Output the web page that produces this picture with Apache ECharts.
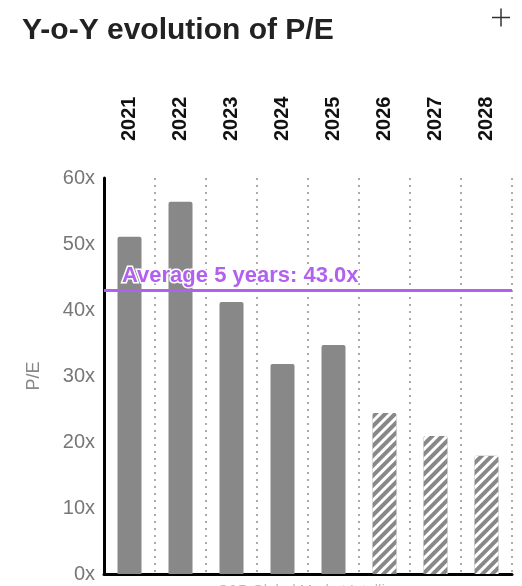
<!DOCTYPE html>
<html>
<head>
<meta charset="utf-8">
<style>
  html, body { margin: 0; padding: 0; background: #fff; }
  #chart { width: 522px; height: 586px; }
</style>
<script src="https://cdn.jsdelivr.net/npm/echarts@6/dist/echarts.min.js"></script>
</head>
<body>
<div id="chart"></div>
<script>
var years = ['2021', '2022', '2023', '2024', '2025', '2026', '2027', '2028'];
var peValues = [51.1, 56.4, 41.2, 31.8, 34.7, 24.4, 20.9, 17.9];
var isForecast = [false, false, false, false, false, true, true, true];
var averagePE = 43.0;
var yTicks = [0, 60, 10]; // min, max, interval

var purple = '#b160f0';
var barGrey = '#888888';
var font = 'Liberation Sans, Arial, sans-serif';

var chart = echarts.init(document.getElementById('chart'), null, { renderer: 'canvas' });

// forecast years get the striped fill
var barData = peValues.map(function (v, i) {
  var item = { value: v };
  if (isForecast[i]) {
    item.itemStyle = {
      color: barGrey,
      decal: {
        symbol: 'rect',
        color: '#ffffff',
        dashArrayX: [1, 0],
        dashArrayY: [3, 4],
        rotation: -Math.PI / 4
      }
    };
  }
  return item;
});

chart.setOption({
  animation: false,
  title: {
    text: 'Y-o-Y evolution of P/E',
    left: 17,
    top: 11,
    textStyle: { fontFamily: font, fontSize: 30, fontWeight: 'bold', color: '#222' }
  },
  graphic: [
    { type: 'line', shape: { x1: 492, y1: 17.5, x2: 510, y2: 17.5 }, style: { stroke: '#333', lineWidth: 1.5 } },
    { type: 'line', shape: { x1: 501, y1: 8.5, x2: 501, y2: 26.5 }, style: { stroke: '#333', lineWidth: 1.5 } },
    { type: 'text', left: 218, top: 583, style: { text: 'S&P Global Market Intelligence', fontSize: 15, fontFamily: font, fill: '#bbb' } }
  ],
  grid: { left: 104, right: 10, top: 178, bottom: 12 },
  xAxis: [
    {
      type: 'category',
      data: years,
      position: 'top',
      axisLine: { show: false },
      axisTick: { show: false },
      axisLabel: {
        rotate: 90,
        margin: 37,
        color: '#111',
        fontSize: 20,
        fontWeight: 'bold',
        fontFamily: font
      },
      splitLine: { show: true, lineStyle: { color: '#aaa', width: 2, type: [2, 5] } }
    },
    {
      type: 'category',
      data: years,
      position: 'bottom',
      axisLine: { show: true, lineStyle: { color: '#000', width: 3 } },
      axisTick: { show: false },
      axisLabel: { show: false }
    }
  ],
  yAxis: {
    type: 'value',
    min: yTicks[0],
    max: yTicks[1],
    interval: yTicks[2],
    name: 'P/E',
    nameLocation: 'middle',
    nameGap: 61,
    nameTextStyle: { color: '#888', fontSize: 18, fontFamily: font },
    axisLine: { show: true, lineStyle: { color: '#000', width: 3 } },
    axisTick: { show: false },
    axisLabel: {
      formatter: '{value}x',
      color: '#777',
      fontSize: 20,
      margin: 9,
      fontFamily: font
    },
    splitLine: { show: false }
  },
  series: [{
    type: 'bar',
    xAxisIndex: 0,
    data: barData,
    barWidth: 24,
    itemStyle: { color: barGrey, borderRadius: [2, 2, 0, 0] },
    markLine: {
      silent: true,
      symbol: 'none',
      lineStyle: { color: purple, width: 3, type: 'solid' },
      label: {
        position: 'insideStartTop',
        distance: [18, 3],
        formatter: 'Average 5 years: ' + averagePE.toFixed(1) + 'x',
        color: purple,
        fontSize: 22,
        fontWeight: 'bold',
        fontFamily: font,
        textBorderColor: '#fff',
        textBorderWidth: 3
      },
      data: [{ yAxis: averagePE }]
    }
  }]
});
</script>
</body>
</html>
